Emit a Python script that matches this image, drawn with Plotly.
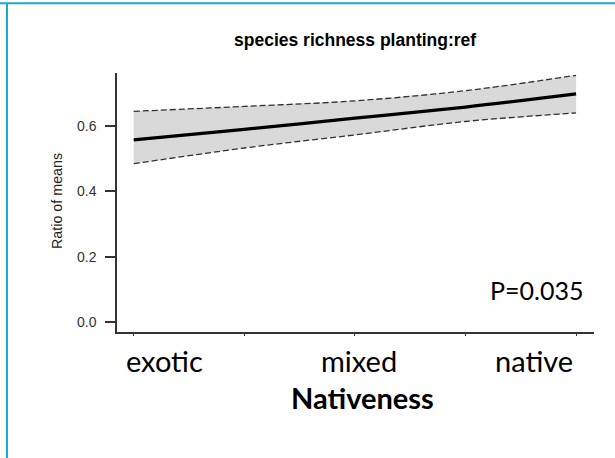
import plotly.graph_objects as go

# Data
x_vals = [1.0, 1.5, 2.0, 2.5, 3.0]
fit = [0.557, 0.589, 0.623, 0.657, 0.697]
upper = [0.644, 0.659, 0.676, 0.707, 0.754]
lower = [0.484, 0.532, 0.572, 0.613, 0.639]
y_ticks = [0.0, 0.2, 0.4, 0.6]
x_ticks = [1.0, 1.5, 2.0, 2.5, 3.0]
cat_labels = ["exotic", "mixed", "native"]
title_text = "species richness planting:ref"
p_text = "P=0.035"

W, H = 615, 458
L, R, T, B = 117, 21, 73, 126
PW, PH = W - L - R, H - T - B


def px(x):
    return (x - L) / PW


def py(y):
    return (H - B - y) / PH


fig = go.Figure()
fig.add_trace(go.Scatter(x=x_vals + x_vals[::-1], y=upper + lower[::-1], fill="toself",
                         fillcolor="#D9D9D9", line=dict(width=0), mode="lines",
                         hoverinfo="skip", showlegend=False))
fig.add_trace(go.Scatter(x=x_vals, y=upper, mode="lines", line_shape="spline",
                         line=dict(color="#333333", width=1.3, dash="6px,3px"), showlegend=False))
fig.add_trace(go.Scatter(x=x_vals, y=lower, mode="lines", line_shape="spline",
                         line=dict(color="#333333", width=1.3, dash="6px,3px"), showlegend=False))
fig.add_trace(go.Scatter(x=x_vals, y=fit, mode="lines", line_shape="spline",
                         line=dict(color="#000000", width=3.2), showlegend=False))

axis_font = dict(family="Liberation Sans, Arial", size=14, color="#333333")
fig.update_xaxes(range=[0.9244, 3.081], showgrid=False, zeroline=False, showline=True,
                 linecolor="#333333", linewidth=1.5, ticks="outside", ticklen=2,
                 tickwidth=1, tickcolor="#333333", tickvals=x_ticks, showticklabels=False)
fig.update_yaxes(range=[-0.0297, 0.761], showgrid=False, zeroline=False, showline=True,
                 linecolor="#333333", linewidth=1.5, ticks="outside", ticklen=10,
                 tickwidth=1.5, tickcolor="#333333", tickvals=y_ticks,
                 ticktext=[f"{v:.1f}" for v in y_ticks], tickfont=axis_font,
                 ticklabelstandoff=6)

ann = []
ann.append(dict(text="<b>" + title_text + "</b>", x=px(354.5), y=py(40), xref="paper", yref="paper",
                showarrow=False, xanchor="center", yanchor="middle",
                font=dict(family="Liberation Sans, Arial", size=17.5, color="#000000")))
ann.append(dict(text="Ratio of means", x=px(57), y=py(201), xref="paper", yref="paper",
                showarrow=False, xanchor="center", yanchor="middle", textangle=-90,
                font=dict(family="Liberation Sans, Arial", size=14.3, color="#222222")))
cat_px = [164, 358.5, 534]
for lab, cx in zip(cat_labels, cat_px):
    ann.append(dict(text=lab, x=px(cx), y=py(360), xref="paper", yref="paper",
                    showarrow=False, xanchor="center", yanchor="middle",
                    font=dict(family="Lato", size=29, color="#000000")))
ann.append(dict(text="<b>Nativeness</b>", x=px(362.5), y=py(397), xref="paper", yref="paper",
                showarrow=False, xanchor="center", yanchor="middle",
                font=dict(family="Lato", size=29, color="#000000")))
ann.append(dict(text=p_text, x=px(585), y=py(290), xref="paper", yref="paper",
                showarrow=False, xanchor="right", yanchor="middle",
                font=dict(family="Lato", size=25, color="#000000")))

shapes = [
    dict(type="line", xref="paper", yref="paper", x0=px(0), x1=px(W), y0=py(3.2), y1=py(3.2),
         line=dict(color="#19A9D1", width=2)),
    dict(type="line", xref="paper", yref="paper", x0=px(7), x1=px(7), y0=py(3), y1=py(H),
         line=dict(color="#19A9D1", width=2)),
]

fig.update_layout(width=W, height=H, margin=dict(l=L, r=R, t=T, b=B),
                  plot_bgcolor="white", paper_bgcolor="white",
                  annotations=ann, shapes=shapes, showlegend=False)
fig.write_html("out.html", config={"displayModeBar": False},
               post_script="document.body.style.margin='0';document.body.style.overflow='hidden';")
